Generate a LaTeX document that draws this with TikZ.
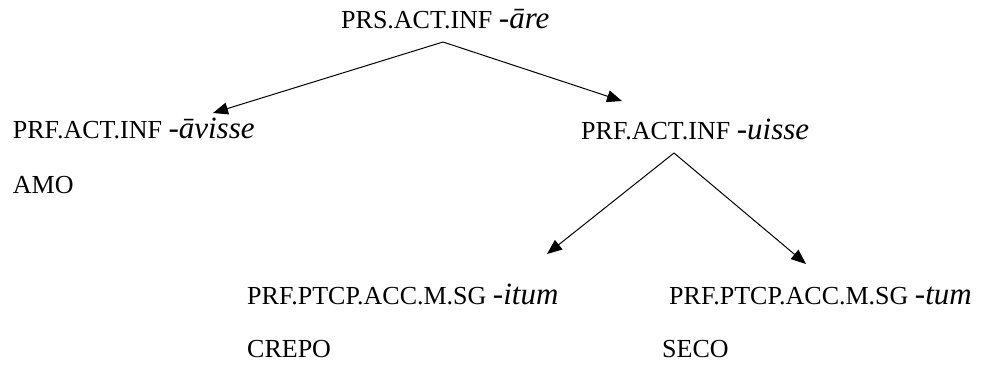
\documentclass[tikz,border=0pt]{standalone}
\usepackage{fontspec}
\setmainfont{Liberation Serif}
\usetikzlibrary{arrows.meta}
\newcommand{\glossup}{\fontsize{26}{31}\selectfont}
\newcommand{\sfx}[1]{{\fontsize{31}{37}\selectfont\itshape #1}}
\begin{document}
\begin{tikzpicture}[x=1pt,y=-1pt,
  lbl/.style={anchor=base west, inner sep=0pt, font=\glossup},
  arr/.style={line width=1pt, -{Triangle[length=15pt,width=12pt]}}]
\useasboundingbox (0,0) rectangle (985,365);
\node[lbl] (top) at (341,28) {PRS.ACT.INF \sfx{-āre}};
\node[lbl] (left) at (12.7,138) {PRF.ACT.INF \sfx{-āvisse}};
\node[lbl] (amo) at (12.7,193) {AMO};
\node[lbl] (right) at (581,139) {PRF.ACT.INF \sfx{-uisse}};
\node[lbl] (bl) at (247,304) {PRF.PTCP.ACC.M.SG \sfx{-itum}};
\node[lbl] (crepo) at (247,357) {CREPO};
\node[lbl] (br) at (669,304) {PRF.PTCP.ACC.M.SG \sfx{-tum}};
\node[lbl] (seco) at (662,357) {SECO};
\coordinate (topfork) at (443,42);
\coordinate (lefttip) at (213,113);
\coordinate (righttip) at (622,101);
\coordinate (rightfork) at (674,153);
\coordinate (bltip) at (547,254);
\coordinate (brtip) at (806,264);
\draw[arr] (topfork) -- (lefttip);
\draw[arr] (topfork) -- (righttip);
\draw[arr] (rightfork) -- (bltip);
\draw[arr] (rightfork) -- (brtip);
\end{tikzpicture}
\end{document}
